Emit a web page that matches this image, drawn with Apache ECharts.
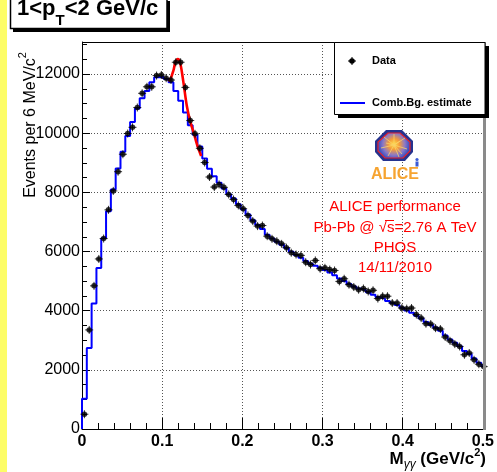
<!DOCTYPE html>
<html>
<head>
<meta charset="utf-8">
<script src="https://cdn.jsdelivr.net/npm/echarts@6/dist/echarts.min.js"></script>
<style>
html, body { margin: 0; padding: 0; background: #ffffff; }
#chart { width: 497px; height: 472px; }
</style>
</head>
<body>
<div id="chart"></div>
<script>
// Invariant-mass binning (6 MeV/c^2 bins starting at 0)
const binWidth = 0.006;

// Same-event counts per bin
const dataCounts = [
  500, 3350, 4840, 5750, 6440, 7410, 8050, 8700, 9290, 9990,
  10200, 10870, 11350, 11570, 11570, 11950, 11970, 11860, 11800, 12400,
  12400, 11550, 10430, 9980, 9490, 9010, 8520, 8180, 8270, 8170,
  7930, 7760, 7560, 7450, 7220, 7030, 6860, 6880, 6520, 6430,
  6350, 6260, 6130, 5960, 5900, 5870, 5640, 5560, 5700, 5420,
  5450, 5390, 5360, 4990, 5080, 4880, 4800, 4710, 4750, 4650,
  4690, 4410, 4490, 4490, 4260, 4260, 4090, 4070, 4090, 3870,
  3750, 3560, 3550, 3410, 3380, 3110, 2980, 2870, 2790, 2510,
  2570, 2340, 2190, 2110
];

// Combinatorial background estimate per bin
const bgCounts = [
  1020, 2740, 4240, 5440, 6450, 7360, 8100, 8810, 9370, 9910,
  10380, 10840, 11180, 11430, 11720, 11890, 11900, 11830, 11720, 11430,
  11095, 10700, 10270, 9950, 9550, 9150, 8800, 8550, 8330, 8130,
  7940, 7790, 7600, 7430, 7250, 7060, 6900, 6760, 6570, 6440,
  6330, 6230, 6120, 5990, 5880, 5790, 5680, 5590, 5520, 5450,
  5380, 5290, 5200, 5090, 5000, 4900, 4820, 4750, 4690, 4620,
  4540, 4460, 4400, 4330, 4260, 4190, 4100, 4010, 3930, 3830,
  3740, 3620, 3520, 3420, 3320, 3160, 3030, 2920, 2800, 2640,
  2540, 2380, 2240, 2120
];

// Peak fit curve [mass, counts]
const fitCurve = [
  [0.1077, 11780], [0.1100, 11810], [0.1140, 12120], [0.1165, 12400],
  [0.1195, 12510], [0.1223, 12400], [0.1265, 11720], [0.1307, 10930],
  [0.1348, 10420], [0.1398, 9970], [0.1440, 9570], [0.1486, 9230]
];

const xTickValues = [0, 0.1, 0.2, 0.3, 0.4, 0.5];
const yTickValues = [0, 2000, 4000, 6000, 8000, 10000, 12000];
const yMax = 13085;

const FONT = '"Liberation Sans", Arial, Helvetica, sans-serif';

// histogram outline as explicit steps
const bgSteps = [[0, 0]];
bgCounts.forEach((v, i) => {
  bgSteps.push([i * binWidth, v], [(i + 1) * binWidth, v]);
});
const dataPoints = dataCounts.map((v, i) => [(i + 0.5) * binWidth, v]);

const chart = echarts.init(document.getElementById('chart'), null, { renderer: 'canvas' });

function textEl(x, y, text, opts) {
  const style = Object.assign({
    text: text,
    font: '15px ' + FONT,
    fill: '#000',
    align: 'center', textAlign: 'center',
    verticalAlign: 'middle', textVerticalAlign: 'middle'
  }, opts || {});
  return { type: 'text', x: x, y: y, z: 50, style: style };
}

function seg(x1, y1, x2, y2, stroke, w, z) {
  return { type: 'line', shape: { x1: x1, y1: y1, x2: x2, y2: y2 }, style: { stroke: stroke, lineWidth: w }, z: z || 50 };
}

// burst rays inside the logo
const rays = [[384, 137], [405, 138], [407, 149], [388, 156], [399, 157], [381, 148], [394, 134], [402, 154], [386, 143], [400, 141]]
  .map(p => seg(394, 145, p[0], p[1], '#f9d267', 0.8, 47));

const graphics = [
  // left page strip
  { type: 'rect', shape: { x: 0, y: 0, width: 7, height: 472 }, style: { fill: '#fdfd66' }, z: 1 },
  // pad frame: top edge and right edge
  seg(82, 42.5, 484, 42.5, '#000', 1, 40),
  { type: 'rect', shape: { x: 483, y: 42, width: 3, height: 388 }, style: { fill: '#8a8a8a' }, z: 40 },
  // title box with shadow
  { type: 'rect', shape: { x: 13, y: 1, width: 157, height: 31 }, style: { fill: '#000' }, z: 40 },
  { type: 'rect', shape: { x: 10.5, y: -2, width: 156.5, height: 30.5 }, style: { fill: '#fff', stroke: '#000', lineWidth: 1.5 }, z: 41 },
  {
    type: 'text', x: 17, y: -2, z: 50,
    style: {
      text: '{b|1<p}{s|T}{b|<2 GeV/c}',
      align: 'left', textAlign: 'left', verticalAlign: 'top', textVerticalAlign: 'top',
      rich: {
        b: { font: 'bold 22px ' + FONT, fill: '#000', lineHeight: 30, verticalAlign: 'top' },
        s: { font: 'bold 15px ' + FONT, fill: '#000', lineHeight: 30, verticalAlign: 'bottom' }
      }
    }
  },
  // legend box with shadow
  { type: 'rect', shape: { x: 338, y: 46, width: 151, height: 72 }, style: { fill: '#000' }, z: 40 },
  { type: 'rect', shape: { x: 334.5, y: 42.5, width: 150.5, height: 72 }, style: { fill: '#fff', stroke: '#000', lineWidth: 1 }, z: 41 },
  { type: 'circle', shape: { cx: 352, cy: 61, r: 2.8 }, style: { fill: '#000' }, z: 50 },
  seg(352, 57, 352, 65, '#000', 1, 50),
  seg(348, 61, 356, 61, '#000', 1, 50),
  textEl(372, 61, 'Data', { font: 'bold 11px ' + FONT, align: 'left', textAlign: 'left' }),
  seg(340, 103, 365, 103, '#0000ff', 2, 50),
  textEl(372, 103, 'Comb.Bg. estimate', { font: 'bold 11px ' + FONT, align: 'left', textAlign: 'left' }),
  // y axis title
  {
    type: 'text', x: 28, y: 125, rotation: Math.PI / 2, z: 50,
    style: {
      text: '{a|Events per 6 MeV/c}{s|2}',
      align: 'center', textAlign: 'center', verticalAlign: 'middle', textVerticalAlign: 'middle',
      rich: {
        a: { font: '16px ' + FONT, fill: '#000', lineHeight: 22, verticalAlign: 'bottom' },
        s: { font: '11px ' + FONT, fill: '#000', lineHeight: 22, verticalAlign: 'top' }
      }
    }
  },
  // x axis title
  {
    type: 'text', x: 486, y: 459, z: 50,
    style: {
      text: '{m|M}{g|γγ}{m| (GeV/c}{s|2}{m|)}',
      align: 'right', textAlign: 'right', verticalAlign: 'middle', textVerticalAlign: 'middle',
      rich: {
        m: { font: 'bold 17px ' + FONT, fill: '#000', lineHeight: 24, verticalAlign: 'middle' },
        g: { font: 'italic 12px ' + FONT, fill: '#000', lineHeight: 24, verticalAlign: 'bottom' },
        s: { font: 'bold 11px ' + FONT, fill: '#000', lineHeight: 24, verticalAlign: 'top' }
      }
    }
  },
  // experiment logo
  { type: 'polygon', shape: { points: [[386, 130], [402, 130], [413, 141], [413, 152], [405, 161], [383, 161], [375, 152], [375, 141]] },
    style: { fill: '#25338f' }, z: 45 },
  { type: 'polygon', shape: { points: [[388, 133], [400, 133], [410, 142], [410, 151], [403, 158], [385, 158], [378, 151], [378, 142]] },
    style: { fill: {
      type: 'radial', x: 0.5, y: 0.45, r: 0.6,
      colorStops: [{ offset: 0, color: '#ffe24a' }, { offset: 0.35, color: '#f59a3a' }, { offset: 0.7, color: '#8a78c8' }, { offset: 1, color: '#3a4fc0' }]
    }, stroke: '#e8202a', lineWidth: 1.2 }, z: 46 }
].concat(rays, [
  { type: 'circle', shape: { cx: 417, cy: 159.5, r: 1.6 }, style: { fill: '#3b5bd6' }, z: 47 },
  { type: 'rect', shape: { x: 415.5, y: 161.5, width: 3, height: 5 }, style: { fill: '#3b5bd6' }, z: 47 },
  textEl(395, 175, 'ALICE', { font: 'bold 16px ' + FONT, fill: '#f6a431' }),
  // performance label
  textEl(395, 207, 'ALICE performance', { fill: '#ff0000' }),
  textEl(395, 228, 'Pb-Pb @ √s=2.76 A TeV', { fill: '#ff0000' }),
  seg(385, 220.5, 394, 220.5, '#ff0000', 1, 50),
  textEl(395, 248, 'PHOS', { fill: '#ff0000' }),
  textEl(395, 268, '14/11/2010', { fill: '#ff0000' })
]);

const option = {
  backgroundColor: '#ffffff',
  animation: false,
  grid: { left: 82, right: 14, top: 42, bottom: 43, containLabel: false },
  xAxis: {
    type: 'value', min: 0, max: 0.5, interval: 0.1,
    axisLine: { show: true, onZero: false, lineStyle: { color: '#000', width: 1 } },
    axisTick: { show: true, inside: true, length: 11, lineStyle: { color: '#000', width: 1 } },
    minorTick: { show: true, splitNumber: 5, length: 6, lineStyle: { color: '#000', width: 1 } },
    axisLabel: {
      margin: 5, color: '#000', fontFamily: FONT, fontSize: 16, fontWeight: 'bold',
      formatter: v => { const t = xTickValues.find(x => Math.abs(x - v) < 1e-9); return t === undefined ? '' : String(t); }
    },
    splitLine: { show: true, showMinLine: false, showMaxLine: false, lineStyle: { color: '#555', type: [1, 2], width: 1 } },
    minorSplitLine: { show: false }
  },
  yAxis: [
    {
      type: 'value', min: 0, max: yMax, interval: 2000, position: 'left',
      axisLine: { show: true, onZero: false, lineStyle: { color: '#000', width: 1 } },
      axisTick: { show: true, inside: true, length: 8, lineStyle: { color: '#000', width: 1 } },
      axisLabel: {
        margin: 2, color: '#000', fontFamily: FONT, fontSize: 16, showMaxLabel: false,
        formatter: v => (yTickValues.indexOf(v) >= 0 ? String(v) : '')
      },
      splitLine: { show: true, showMinLine: false, showMaxLine: false, lineStyle: { color: '#555', type: [1, 2], width: 1 } }
    },
    {
      type: 'value', min: 0, max: yMax, interval: 500, position: 'left', offset: 0,
      axisLine: { show: false },
      axisTick: { show: true, inside: true, length: 5, lineStyle: { color: '#000', width: 1 } },
      axisLabel: { show: false },
      splitLine: { show: false }
    }
  ],
  series: [
    {
      name: 'Comb.Bg. estimate', type: 'line', data: bgSteps, yAxisIndex: 0,
      symbol: 'none', clip: true, z: 3,
      lineStyle: { color: '#0000ff', width: 2 }
    },
    {
      name: 'fit', type: 'line', data: fitCurve, yAxisIndex: 0,
      symbol: 'none', smooth: 0.35, clip: true, z: 4,
      lineStyle: { color: '#ff0000', width: 2.6 }
    },
    {
      // small error-bar crosses under the markers
      name: 'Data errors', type: 'scatter', data: dataPoints, yAxisIndex: 0,
      symbol: 'path://M4,0L4,8M0,4L8,4', symbolSize: 8, clip: false, z: 5,
      itemStyle: { color: 'rgba(0,0,0,0)', borderColor: '#000', borderWidth: 1 }
    },
    {
      name: 'Data', type: 'scatter', data: dataPoints, yAxisIndex: 0,
      symbol: 'circle', symbolSize: 5.5, clip: false, z: 6,
      itemStyle: { color: '#000' }
    }
  ],
  graphic: graphics
};

chart.setOption(option);
</script>
</body>
</html>
